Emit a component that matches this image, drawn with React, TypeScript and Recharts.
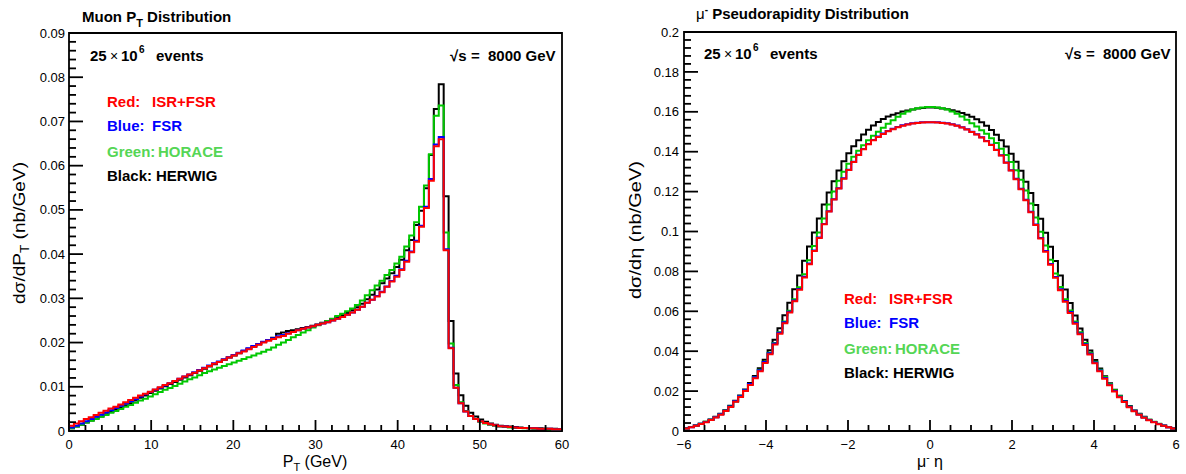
import React from "react";
import { LineChart, Line, XAxis, YAxis, ReferenceArea } from "recharts";

const FONT = "'Liberation Sans', Arial, Helvetica, sans-serif";

// Muon pT: 100 bins of 0.6 GeV from 0 to 60, contents in units of 1e-4 nb/GeV
const ptLow = 0;
const ptBinWidth = 0.6;
const ptRed = [
  12, 17, 22, 27, 31, 36, 41, 46, 51, 55,
  60, 65, 70, 75, 80, 84, 89, 94, 99, 104,
  108, 113, 118, 123, 128, 132, 137, 142, 147, 152,
  156, 161, 166, 171, 176, 180, 185, 190, 195, 200,
  204, 208, 212, 215, 220, 224, 228, 231, 234, 237,
  240, 243, 246, 250, 254, 258, 263, 268, 274, 281,
  290, 297, 304, 314, 326, 338, 349, 364, 383, 404,
  428, 462, 504, 566, 644, 660, 409, 187, 98, 63,
  44, 34, 27, 22, 18, 15, 13, 11, 10, 9,
  8, 7, 7, 6, 6, 5, 5, 5, 4, 4,
];
const ptBlue = [
  8, 12, 17, 22, 27, 32, 37, 42, 47, 52,
  57, 62, 67, 72, 78, 83, 88, 93, 98, 103,
  108, 113, 118, 123, 128, 133, 138, 143, 148, 153,
  157, 162, 167, 172, 177, 182, 187, 192, 197, 202,
  206, 210, 214, 217, 221, 224, 228, 231, 234, 237,
  240, 243, 246, 250, 254, 258, 263, 268, 274, 281,
  290, 297, 305, 315, 327, 339, 351, 366, 385, 406,
  430, 464, 507, 570, 648, 665, 411, 188, 98, 63,
  44, 34, 27, 22, 18, 15, 13, 11, 10, 9,
  8, 7, 7, 6, 6, 5, 5, 5, 4, 4,
];
const ptGreen = [
  6, 10, 14, 19, 23, 27, 32, 36, 41, 45,
  50, 55, 59, 64, 69, 73, 78, 83, 88, 93,
  97, 102, 107, 112, 117, 121, 126, 131, 135, 139,
  143, 147, 151, 155, 159, 163, 167, 171, 175, 179,
  184, 189, 195, 200, 206, 212, 217, 223, 228, 234,
  239, 244, 249, 254, 260, 265, 271, 277, 285, 295,
  307, 318, 329, 340, 353, 364, 379, 394, 417, 442,
  472, 507, 555, 626, 713, 736, 449, 198, 104, 65,
  45, 34, 27, 21, 17, 14, 12, 10, 9, 8,
  7, 7, 6, 6, 5, 5, 5, 4, 4, 4,
];
const ptBlack = [
  6, 10, 14, 19, 24, 28, 33, 38, 43, 48,
  53, 58, 63, 69, 75, 80, 86, 91, 96, 101,
  106, 111, 116, 121, 126, 131, 136, 141, 146, 151,
  156, 161, 166, 171, 176, 181, 186, 191, 196, 201,
  206, 211, 220, 223, 226, 228, 230, 233, 235, 238,
  241, 245, 249, 253, 258, 262, 267, 273, 280, 288,
  298, 308, 320, 334, 345, 357, 371, 387, 409, 432,
  466, 498, 549, 624, 728, 784, 531, 249, 130, 81,
  57, 41, 33, 26, 21, 17, 14, 12, 11, 10,
  9, 8, 7, 7, 6, 6, 5, 5, 5, 4,
];

// mu- eta: 100 bins of 0.12 from -6 to 6, units of 1e-4 nb/GeV
const etaLow = -6;
const etaBinWidth = 0.12;
const etaRed = [
  13, 19, 26, 35, 44, 55, 68, 82, 100, 120,
  146, 170, 200, 230, 264, 300, 341, 385, 433, 487,
  540, 594, 650, 708, 770, 836, 902, 968, 1036, 1100,
  1160, 1215, 1265, 1308, 1348, 1383, 1412, 1437, 1457, 1474,
  1489, 1502, 1513, 1522, 1530, 1536, 1541, 1544, 1546, 1547,
  1547, 1546, 1544, 1541, 1536, 1530, 1521, 1511, 1499, 1486,
  1471, 1453, 1434, 1409, 1381, 1345, 1306, 1262, 1212, 1157,
  1097, 1033, 965, 899, 833, 768, 706, 648, 592, 538,
  485, 431, 383, 339, 299, 262, 229, 198, 169, 145,
  119, 99, 81, 67, 54, 44, 34, 26, 19, 13,
];
const etaBlue = [
  13, 19, 27, 36, 45, 56, 69, 84, 102, 123,
  149, 174, 204, 235, 269, 305, 346, 390, 438, 492,
  545, 598, 654, 712, 773, 839, 905, 970, 1038, 1102,
  1162, 1217, 1267, 1310, 1350, 1385, 1414, 1439, 1459, 1476,
  1491, 1504, 1515, 1524, 1532, 1538, 1542, 1545, 1547, 1548,
  1548, 1547, 1545, 1542, 1537, 1531, 1522, 1512, 1500, 1487,
  1472, 1454, 1435, 1410, 1382, 1346, 1307, 1264, 1214, 1159,
  1099, 1035, 968, 902, 837, 772, 710, 652, 596, 542,
  489, 435, 387, 343, 303, 266, 232, 201, 172, 148,
  122, 101, 83, 68, 55, 45, 35, 27, 19, 13,
];
const etaGreen = [
  13, 20, 27, 36, 46, 57, 70, 85, 102, 123,
  148, 175, 204, 236, 271, 307, 347, 392, 441, 495,
  549, 603, 660, 720, 786, 856, 927, 995, 1065, 1135,
  1200, 1255, 1300, 1340, 1375, 1405, 1432, 1457, 1480, 1500,
  1520, 1540, 1558, 1575, 1590, 1602, 1611, 1618, 1622, 1624,
  1624, 1622, 1618, 1611, 1602, 1590, 1576, 1560, 1543, 1526,
  1508, 1490, 1468, 1443, 1415, 1384, 1348, 1307, 1260, 1205,
  1140, 1070, 999, 930, 859, 789, 722, 661, 604, 549,
  495, 441, 392, 347, 307, 271, 236, 204, 175, 148,
  123, 102, 85, 70, 57, 46, 36, 27, 20, 13,
];
const etaBlack = [
  14, 20, 27, 36, 46, 58, 72, 87, 104, 126,
  152, 178, 208, 240, 276, 314, 357, 405, 458, 515,
  580, 643, 710, 780, 853, 925, 995, 1065, 1135, 1195,
  1252, 1306, 1352, 1392, 1427, 1458, 1486, 1510, 1531, 1549,
  1564, 1576, 1585, 1593, 1601, 1607, 1612, 1616, 1619, 1621,
  1622, 1620, 1617, 1613, 1608, 1602, 1594, 1585, 1575, 1563,
  1548, 1530, 1509, 1485, 1457, 1426, 1390, 1350, 1304, 1250,
  1193, 1133, 1064, 994, 924, 852, 779, 709, 642, 579,
  514, 457, 404, 356, 313, 275, 239, 207, 177, 151,
  125, 103, 86, 71, 57, 45, 35, 26, 19, 13,
];

const ptXMajor = [0, 10, 20, 30, 40, 50, 60];
const ptYMajor = [0, 0.01, 0.02, 0.03, 0.04, 0.05, 0.06, 0.07, 0.08, 0.09];
const etaXMajor = [-6, -4, -2, 0, 2, 4, 6];
const etaYMajor = [0, 0.02, 0.04, 0.06, 0.08, 0.1, 0.12, 0.14, 0.16, 0.18, 0.2];

const COLORS = { red: "#ff0000", blue: "#0000ff", green: "#00c800", black: "#000000" };

function buildRows(low: number, width: number, s: { red: number[]; blue: number[]; green: number[]; black: number[] }) {
  const n = s.red.length;
  const rows = [];
  for (let i = 0; i <= n; i++) {
    const k = Math.min(i, n - 1);
    rows.push({
      x: +(low + i * width).toFixed(4),
      red: s.red[k] * 1e-4,
      blue: s.blue[k] * 1e-4,
      green: s.green[k] * 1e-4,
      black: s.black[k] * 1e-4,
    });
  }
  return rows;
}

const ptRows = buildRows(ptLow, ptBinWidth, { red: ptRed, blue: ptBlue, green: ptGreen, black: ptBlack });
const etaRows = buildRows(etaLow, etaBinWidth, { red: etaRed, blue: etaBlue, green: etaGreen, black: etaBlack });

// major ticks plus evenly spaced minor ticks between them
function withMinor(majors: number[], sub: number) {
  const out: number[] = [];
  for (let i = 0; i < majors.length - 1; i++) {
    const step = (majors[i + 1] - majors[i]) / sub;
    for (let j = 0; j < sub; j++) out.push(+(majors[i] + j * step).toFixed(6));
  }
  out.push(majors[majors.length - 1]);
  return out;
}

const isMajor = (v: number, majors: number[]) => majors.some((m) => Math.abs(m - v) < 1e-9);
const fmtNum = (v: number) => (v === 0 ? "0" : String(parseFloat(v.toFixed(3))));
const fmtX = (v: number) => (v < 0 ? "\u2212" + Math.abs(v) : String(v));

const AXIS_W = 40;
const AXIS_H = 30;

const makeYTick = (majors: number[], gap: number, bigLen: number, smallLen: number) => (p: any) => {
  const v = p.payload.value;
  const major = isMajor(v, majors);
  const ax = p.x + gap;
  return (
    <g>
      <line x1={ax} x2={ax + (major ? bigLen : smallLen)} y1={p.y} y2={p.y} stroke="#000" strokeWidth={1.8} />
      {major && (
        <text x={p.x} y={p.y + 4.6} textAnchor="end" fontSize={13} fontFamily={FONT} fill="#000">
          {fmtNum(v)}
        </text>
      )}
    </g>
  );
};

const makeXTick = (majors: number[], bigLen: number, smallLen: number) => (p: any) => {
  const v = p.payload.value;
  const major = isMajor(v, majors);
  return (
    <g>
      <line x1={p.x} x2={p.x} y1={p.y} y2={p.y - (major ? bigLen : smallLen)} stroke="#000" strokeWidth={1.8} />
      {major && (
        <text x={p.x} y={p.y + 18} textAnchor="middle" fontSize={13} fontFamily={FONT} fill="#000">
          {fmtX(v)}
        </text>
      )}
    </g>
  );
};

const seriesOrder: Array<keyof typeof COLORS> = ["black", "green", "blue", "red"];

function Panel({ rows, xDomain, yDomain, xMajor, xSub, yMajor, ySub, yGap, width, margin }: any) {
  return (
    <LineChart width={width} height={474} data={rows} margin={margin}>
      <XAxis
        dataKey="x"
        type="number"
        domain={xDomain}
        ticks={withMinor(xMajor, xSub)}
        interval={0}
        height={AXIS_H}
        axisLine={false}
        tickLine={false}
        tickSize={0}
        tickMargin={0}
        tick={makeXTick(xMajor, 11, 6)}
        allowDataOverflow
      />
      <YAxis
        type="number"
        domain={yDomain}
        ticks={withMinor(yMajor, ySub)}
        interval={0}
        width={AXIS_W}
        axisLine={false}
        tickLine={false}
        tickSize={0}
        tickMargin={yGap}
        tick={makeYTick(yMajor, yGap, 14, 7)}
        allowDataOverflow
      />
      <ReferenceArea
        x1={xDomain[0]}
        x2={xDomain[1]}
        y1={yDomain[0]}
        y2={yDomain[1]}
        fill="none"
        fillOpacity={0}
        stroke="#000"
        strokeWidth={1.8}
        ifOverflow="visible"
      />
      {seriesOrder.map((k) => (
        <Line
          key={k}
          dataKey={k}
          type="stepAfter"
          stroke={COLORS[k]}
          strokeWidth={2}
          dot={false}
          activeDot={false}
          isAnimationActive={false}
        />
      ))}
    </LineChart>
  );
}

function Legend({ x, y }: { x: number; y: number }) {
  const rows = [
    { a: "Red:", b: "ISR+FSR", c: "#ff0000", dy: 0, dx: 45 },
    { a: "Blue:", b: "FSR", c: "#0000ff", dy: 24, dx: 45 },
    { a: "Green:", b: "HORACE", c: "#55d655", dy: 50, dx: 51 },
    { a: "Black:", b: "HERWIG", c: "#000000", dy: 74, dx: 49 },
  ];
  return (
    <g fontFamily={FONT} fontWeight="bold" fontSize={15}>
      {rows.map((r) => (
        <text key={r.a} y={y + r.dy} fill={r.c}>
          <tspan x={x}>{r.a}</tspan>
          <tspan x={x + r.dx}>{r.b}</tspan>
        </text>
      ))}
    </g>
  );
}

function Events({ x, y }: { x: number; y: number }) {
  return (
    <g fontFamily={FONT} fontSize={15} fill="#000">
      <text x={x} y={y} fontWeight="bold">25</text>
      <text x={x + 20} y={y} fontSize={14}>×</text>
      <text x={x + 31} y={y} fontWeight="bold">10</text>
      <text x={x + 49} y={y - 8} fontWeight="bold" fontSize={10}>6</text>
      <text x={x + 66} y={y} fontWeight="bold">events</text>
    </g>
  );
}

function Energy({ x, y }: { x: number; y: number }) {
  return (
    <g fontFamily={FONT} fontSize={15} fontWeight="bold" fill="#000">
      <text x={x} y={y}>√s</text>
      <text x={x + 21} y={y}>=</text>
      <text x={x + 38} y={y}>8000 GeV</text>
    </g>
  );
}

export default function App() {
  return (
    <div style={{ position: "absolute", left: 0, top: 0, width: 1186, height: 474, background: "#fff" }}>
      <div style={{ position: "absolute", left: 0, top: 0 }}>
        <Panel
          rows={ptRows}
          width={600}
          margin={{ top: 33, right: 38, bottom: 43 - AXIS_H, left: 69 - AXIS_W }}
          xDomain={[0, 60]}
          yDomain={[0, 0.09]}
          xMajor={ptXMajor}
          xSub={5}
          yMajor={ptYMajor}
          ySub={5}
          yGap={4}
        />
      </div>
      <div style={{ position: "absolute", left: 600, top: 0 }}>
        <Panel
          rows={etaRows}
          width={586}
          margin={{ top: 32, right: 10, bottom: 43 - AXIS_H, left: 84 - AXIS_W }}
          xDomain={[-6, 6]}
          yDomain={[0, 0.2]}
          xMajor={etaXMajor}
          xSub={4}
          yMajor={etaYMajor}
          ySub={5}
          yGap={5}
        />
      </div>
      <svg width={1186} height={474} style={{ position: "absolute", left: 0, top: 0, pointerEvents: "none" }}>
        {/* left panel texts */}
        <text x={82} y={21.5} fontFamily={FONT} fontSize={15} fontWeight="bold" fill="#000">
          Muon P<tspan fontSize={11} dy={5}>T</tspan>
          <tspan dy={-5}> Distribution</tspan>
        </text>
        <Events x={90} y={61} />
        <Energy x={450} y={61} />
        <Legend x={107} y={107} />
        <text x={315} y={467} textAnchor="middle" fontFamily={FONT} fontSize={16} fill="#000">
          P<tspan fontSize={11} dy={4}>T</tspan>
          <tspan dy={-4}> (GeV)</tspan>
        </text>
        <text
          transform="translate(25,233) rotate(-90)"
          textAnchor="middle"
          fontFamily={FONT}
          fontSize={17}
          fill="#000"
          textLength={142}
          lengthAdjust="spacingAndGlyphs"
        >
          dσ/dP<tspan fontSize={12} dy={4}>T</tspan>
          <tspan dy={-4}> (nb/GeV)</tspan>
        </text>

        {/* right panel texts */}
        <text x={696} y={19} fontFamily={FONT} fontSize={15} fontWeight="bold" fill="#000">
          <tspan fontWeight="normal">μ</tspan>
          <tspan fontSize={10} dy={-6}>-</tspan>
          <tspan dy={6}> Pseudorapidity Distribution</tspan>
        </text>
        <Events x={704} y={59} />
        <Energy x={1065} y={59} />
        <Legend x={844} y={304} />
        <text x={930} y={467} textAnchor="middle" fontFamily={FONT} fontSize={16} fill="#000">
          μ<tspan fontSize={10} dy={-6}>-</tspan>
          <tspan dy={6}> η</tspan>
        </text>
        <text
          transform="translate(641,230) rotate(-90)"
          textAnchor="middle"
          fontFamily={FONT}
          fontSize={17}
          fill="#000"
          textLength={138}
          lengthAdjust="spacingAndGlyphs"
        >
          dσ/dη (nb/GeV)
        </text>
      </svg>
    </div>
  );
}
